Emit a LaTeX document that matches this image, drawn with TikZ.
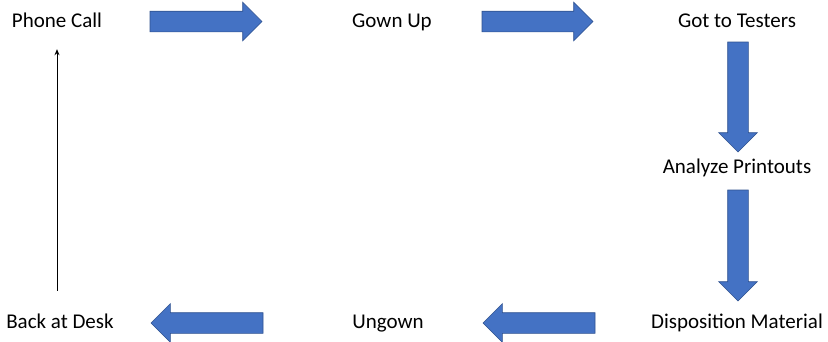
\documentclass[tikz,border=0pt]{standalone}
\usepackage{fontspec}
\setmainfont{Carlito}
\usetikzlibrary{shapes.arrows,arrows.meta}
\definecolor{arrowfill}{HTML}{4472C4}
\definecolor{arrowline}{HTML}{2F528F}

\begin{document}
\begin{tikzpicture}[x=1pt,y=-1pt,
    stage/.style={inner sep=0pt, font=\fontsize{21}{25}\selectfont, text height=14pt, text depth=4pt},
    blockarrow/.style={single arrow, draw=arrowline, fill=arrowfill, line width=0.6pt,
        single arrow head extend=9pt, single arrow head indent=0pt,
        inner sep=10pt, outer sep=0pt, anchor=tail}]

    \useasboundingbox (0,0) rectangle (828,341);

    \node[stage] at (57,22) (Phone) {Phone Call};
    \node[stage] at (392,22) (Gown) {Gown Up};
    \node[stage] at (737,22) (Testers) {Got to Testers};
    \node[stage] at (737,168) (Analyze) {Analyze Printouts};
    \node[stage] at (737,323) (Dispo) {Disposition Material};
    \node[stage] at (388,323) (Ungown) {Ungown};
    \node[stage] at (60,323) (Desk) {Back at Desk};

    % big arrows between the stages, placed by their tails
    \node[blockarrow, minimum height=112pt] at (150,21.5) (Arr1) {};
    \node[blockarrow, minimum height=111pt] at (482,21.5) (Arr2) {};
    \node[blockarrow, minimum height=110pt, shape border rotate=270] at (738,42) (Arr3) {};
    \node[blockarrow, minimum height=111pt, shape border rotate=270] at (738,190) (Arr4) {};
    \node[blockarrow, minimum height=112pt, shape border rotate=180] at (595,323) (Arr5) {};
    \node[blockarrow, minimum height=112pt, shape border rotate=180] at (263,323) (Arr6) {};

    \draw[-{Stealth[length=6pt,width=5pt]}, line width=1pt, shorten <=23pt, shorten >=18pt]
        (Desk.north -| Phone.south) -- (Phone.south);
\end{tikzpicture}
\end{document}
